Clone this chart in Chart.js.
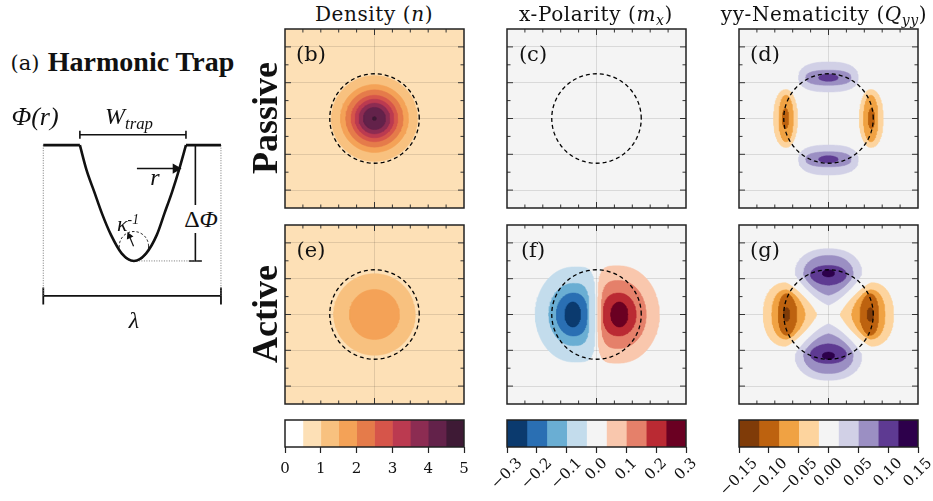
<!DOCTYPE html>
<html>
<head>
<meta charset="utf-8">
<script src="https://cdn.jsdelivr.net/npm/chart.js@4.4.1/dist/chart.umd.min.js"></script>
<style>
  body { margin: 0; background: #fff; width: 933px; height: 501px; position: relative; overflow: hidden; }
  canvas { position: absolute; }
  .t { position: absolute; transform: translate(-50%, -50%); white-space: nowrap; line-height: 1; color: #111; }
  .cm { font-family: "DejaVu Serif", serif; }
  .tm { font-family: "Liberation Serif", serif; }
  .title { font-size: 20px; letter-spacing: 0.6px; }
  .row { font-family: "Liberation Serif", serif; font-weight: bold; font-size: 36px; transform: translate(-50%, -50%) rotate(-90deg); }
  .lt { font-size: 21px; }
  .sub { font-size: 70%; position: relative; top: 0.3em; }
  .sup { font-size: 62%; position: relative; top: -0.55em; }
</style>
</head>
<body>
<canvas id="trap" width="245" height="260" style="left:0;top:80px"></canvas>

<canvas id="pb" width="183" height="183" style="left:283px;top:27px"></canvas>
<canvas id="pc" width="183" height="183" style="left:505px;top:27px"></canvas>
<canvas id="pd" width="183" height="183" style="left:737px;top:27px"></canvas>
<canvas id="pe" width="183" height="183" style="left:283px;top:223px"></canvas>
<canvas id="pf" width="183" height="183" style="left:505px;top:223px"></canvas>
<canvas id="pg" width="183" height="183" style="left:737px;top:223px"></canvas>

<canvas id="cb1" width="239" height="109" style="left:255px;top:418px"></canvas>
<canvas id="cb2" width="239" height="109" style="left:477px;top:418px"></canvas>
<canvas id="cb3" width="239" height="109" style="left:709px;top:418px"></canvas>

<!-- schematic labels -->
<div class="t cm" style="left:25px;top:63px;font-size:21px">(a)</div>
<div class="t tm" style="left:141px;top:62px;font-size:28px;font-weight:bold">Harmonic Trap</div>
<div class="t tm" style="left:35px;top:117px;font-size:26px;font-style:italic">Φ(r)</div>
<div class="t tm" style="left:129px;top:116px;font-size:24px;font-style:italic">W<span class="sub">trap</span></div>
<div class="t tm" style="left:155px;top:177px;font-size:24px;font-style:italic">r</div>
<div class="t tm" style="left:128px;top:224px;font-size:22px;font-style:italic">κ<span class="sup">-1</span></div>
<div class="t tm" style="left:201px;top:219px;font-size:24px;background:#fff;padding:2px 0">Δ<i>Φ</i></div>
<div class="t tm" style="left:134px;top:320px;font-size:24px;font-style:italic">λ</div>

<!-- column titles and row labels -->
<div class="t cm title" style="left:374px;top:14px">Density (<i>n</i>)</div>
<div class="t cm title" style="left:596px;top:14px">x-Polarity (<i>m<span class="sub">x</span></i>)</div>
<div class="t cm title" style="left:824px;top:14px">yy-Nematicity (<i>Q<span class="sub">yy</span></i>)</div>
<div class="t row" style="left:265px;top:118px">Passive</div>
<div class="t row" style="left:265px;top:314px">Active</div>

<!-- panel letters -->
<div class="t cm lt" style="left:311px;top:54px">(b)</div>
<div class="t cm lt" style="left:533px;top:54px">(c)</div>
<div class="t cm lt" style="left:765px;top:54px">(d)</div>
<div class="t cm lt" style="left:311px;top:250px">(e)</div>
<div class="t cm lt" style="left:533px;top:250px">(f)</div>
<div class="t cm lt" style="left:765px;top:250px">(g)</div>

<script>
// ---- data ----

// colour bars: tick labels and bin colours
const densityTicks = [0, 1, 2, 3, 4, 5];
const densityColors = ['#ffffff', '#fde0b6', '#f8c17f', '#f4a257', '#e57b4a', '#d6554a', '#bb3a50', '#8c2c52', '#63224a', '#3e1a35'];
const polarityTicks = [-0.3, -0.2, -0.1, 0, 0.1, 0.2, 0.3];
const polarityColors = ['#0b3a6e', '#2a6fb3', '#6aaed3', '#c3dcec', '#f4f4f4', '#f9c7ad', '#e5806a', '#ba2a33', '#6a0022'];
const nematicTicks = [-0.15, -0.1, -0.05, 0, 0.05, 0.1, 0.15];
const nematicColors = ['#7f3b08', '#bd620f', '#f0a243', '#fdd49e', '#f4f4f4', '#d1d0e6', '#9b8fc3', '#5e3a92', '#2d004b'];

// trap edge (dashed circle), in box units
const trapRadius = 1.25;

// density: radius of each filled level, from n = 1-1.5 upwards
const passiveDensityRadii = [1.20, 0.95, 0.80, 0.65, 0.54, 0.43, 0.31, 0.05];
const activeDensityRadii = [1.14, 0.70];

// lobes: [colour bin, centre distance, outer reach, inner reach, half width, inner shape, outer shape]
const mxActiveNeg = [
  [3, 0.64, 1.07, 0.60, 1.33, 0.45, 1],
  [2, 0.66, 0.67, 0.45, 0.87, 0.6, 1],
  [1, 0.66, 0.46, 0.40, 0.60, 0.8, 1],
  [0, 0.66, 0.22, 0.22, 0.35, 1, 1]
];
const mxActivePos = [
  [5, 0.64, 1.12, 0.60, 1.36, 0.45, 1],
  [6, 0.64, 0.75, 0.50, 0.95, 0.6, 1],
  [7, 0.64, 0.47, 0.45, 0.60, 0.8, 1],
  [8, 0.64, 0.24, 0.24, 0.35, 1, 1]
];
const qyyPassivePurple = [
  [5, 1.14, 0.44, 0.40, 0.83, 0.8, 0.8],
  [6, 1.14, 0.21, 0.21, 0.63, 0.8, 0.8],
  [7, 1.14, 0.10, 0.10, 0.27, 1, 1]
];
const qyyPassiveOrange = [
  [3, 1.18, 0.35, 0.32, 0.81, 1, 0.9],
  [2, 1.18, 0.20, 0.20, 0.65, 1, 0.9],
  [1, 1.20, 0.09, 0.09, 0.28, 1, 1]
];
const qyyActivePurple = [
  [5, 1.14, 0.70, 0.88, 0.93, 1.6, 0.9],
  [6, 1.12, 0.53, 0.58, 0.69, 1.4, 0.9],
  [7, 1.10, 0.27, 0.28, 0.50, 1.1, 0.9],
  [8, 1.15, 0.10, 0.10, 0.17, 1, 1]
];
const qyyActiveOrange = [
  [3, 1.20, 0.62, 0.87, 0.89, 1.6, 0.9],
  [2, 1.18, 0.40, 0.53, 0.69, 1.3, 0.9],
  [1, 1.16, 0.24, 0.28, 0.58, 1.1, 0.9],
  [0, 1.17, 0.09, 0.09, 0.19, 1, 1]
];

// panel axes
const gridX = [0];
const gridY = [-2, -1, 0, 1, 2];
const minorTicks = [-2, -1.5, -1, -0.5, 0, 0.5, 1, 1.5, 2];

// schematic (a): traced trap wall, x in units of lambda, y in units of delta phi
const trapX = [0.206, 0.244, 0.287, 0.330, 0.381, 0.441, 0.510, 0.579, 0.639, 0.682, 0.725, 0.768, 0.803];
const trapY = [1, 0.782, 0.597, 0.411, 0.225, 0.066, 0, 0.066, 0.225, 0.411, 0.597, 0.809, 1];

// ---- helpers ----
function ring(r, cx = 0, cy = 0, ry = r) {
  const pts = [];
  for (let i = 0; i <= 96; i++) {
    const t = i / 96 * 2 * Math.PI;
    pts.push({x: cx + r * Math.cos(t), y: cy + ry * Math.sin(t)});
  }
  return pts;
}

function lobe(spec, angle) {
  const [, d, back, front, half, eIn, eOut] = spec;
  const ca = Math.cos(angle), sa = Math.sin(angle);
  const pts = [];
  for (let i = 0; i <= 120; i++) {
    const t = i / 120 * 2 * Math.PI;
    const c = Math.cos(t), s = Math.sin(t);
    const e = c >= 0 ? eOut : eIn;
    const u = d + (c >= 0 ? back : front) * Math.sign(c) * Math.pow(Math.abs(c), e);
    const v = half * Math.sign(s) * Math.pow(Math.abs(s), e);
    pts.push({x: u * ca - v * sa, y: u * sa + v * ca});
  }
  return pts;
}

function lobes(list, colors, angles) {
  const out = [];
  angles.forEach(a => list.forEach(spec => out.push({pts: lobe(spec, a), color: colors[spec[0]]})));
  return out;
}

const panelFrame = {
  id: 'panelFrame',
  beforeDraw(chart, args, opts) {
    const {ctx, chartArea: a} = chart;
    ctx.save();
    ctx.fillStyle = opts.background;
    ctx.fillRect(a.left, a.top, a.width, a.height);
    ctx.restore();
  },
  afterDraw(chart) {
    const {ctx, chartArea: a, scales: {x, y}} = chart;
    ctx.save();
    ctx.strokeStyle = '#333';
    ctx.lineWidth = 1;
    ctx.beginPath();
    minorTicks.forEach(v => {
      const px = x.getPixelForValue(v), py = y.getPixelForValue(v);
      const lx = gridX.includes(v) ? 6 : 3.5;
      const ly = gridY.includes(v) ? 6 : 3.5;
      ctx.moveTo(px, a.top); ctx.lineTo(px, a.top + lx);
      ctx.moveTo(px, a.bottom); ctx.lineTo(px, a.bottom - lx);
      ctx.moveTo(a.left, py); ctx.lineTo(a.left + ly, py);
      ctx.moveTo(a.right, py); ctx.lineTo(a.right - ly, py);
    });
    ctx.stroke();
    ctx.strokeStyle = '#222';
    ctx.lineWidth = 1.5;
    ctx.strokeRect(a.left, a.top, a.width, a.height);
    ctx.restore();
  }
};

// frame round the colour bar, plus 45 degree tick labels centred under each tick
const barFrame = {
  id: 'barFrame',
  afterDraw(chart, args, opts) {
    const {ctx, chartArea: a} = chart;
    ctx.save();
    ctx.strokeStyle = '#222';
    ctx.lineWidth = 1.5;
    ctx.strokeRect(a.left, a.top, a.width, a.height);
    if (opts.rotated) {
      const x = chart.scales.x;
      ctx.font = '15px "DejaVu Serif"';
      ctx.fillStyle = '#111';
      ctx.textAlign = 'center';
      ctx.textBaseline = 'middle';
      x.ticks.forEach(t => {
        const label = fmt(t.value, opts.decimals);
        const len = ctx.measureText(label).width;
        const half = (len + 11) * 0.3536;
        ctx.save();
        ctx.translate(x.getPixelForValue(t.value), a.bottom + 10 + half);
        ctx.rotate(-Math.PI / 4);
        ctx.fillText(label, 0, 0);
        ctx.restore();
      });
    }
    ctx.restore();
  }
};

function panelAxis(grid) {
  return {
    type: 'linear', min: -2.5, max: 2.5, z: 1,
    afterBuildTicks: s => { s.ticks = grid.map(v => ({value: v})); },
    afterFit: s => { if (s.isHorizontal()) s.height = 0; else s.width = 0; },
    ticks: {display: false},
    grid: {color: 'rgba(0,0,0,0.11)', lineWidth: 1, drawTicks: false},
    border: {display: false}
  };
}

function makePanel(id, background, layers) {
  const datasets = layers.map(l => ({
    data: l.pts, backgroundColor: l.color, borderColor: l.color, borderWidth: 0.5,
    pointRadius: 0, fill: 'shape', tension: 0
  }));
  datasets.push({data: ring(trapRadius), borderColor: '#000', borderWidth: 1.3, borderDash: [4, 3], pointRadius: 0, fill: false});
  datasets.forEach((d, i) => { d.order = datasets.length - i; });
  new Chart(document.getElementById(id), {
    type: 'line',
    data: {datasets},
    options: {
      responsive: false, animation: false, events: [],
      layout: {padding: 2},
      plugins: {legend: {display: false}, tooltip: {enabled: false}, panelFrame: {background}},
      scales: {x: panelAxis(gridX), y: panelAxis(gridY)}
    },
    plugins: [panelFrame]
  });
}

function fmt(v, decimals) {
  const s = Math.abs(v).toFixed(decimals);
  return v < -1e-9 ? '\u2212' + s : s;
}

function makeColorbar(id, colors, ticks, decimals, rotated) {
  const lo = ticks[0], hi = ticks[ticks.length - 1];
  const w = (hi - lo) / colors.length;
  const datasets = colors.map((c, i) => ({
    data: [[lo + i * w, lo + (i + 1) * w]], backgroundColor: c, borderWidth: 0,
    barPercentage: 1, categoryPercentage: 1, grouped: false
  }));
  new Chart(document.getElementById(id), {
    type: 'bar',
    data: {labels: [''], datasets},
    options: {
      indexAxis: 'y', responsive: false, animation: false, events: [],
      layout: {padding: {left: 30, right: 30, top: 2, bottom: 0}},
      plugins: {legend: {display: false}, tooltip: {enabled: false}, barFrame: {rotated, decimals}},
      scales: {
        y: {display: false},
        x: {
          type: 'linear', min: lo, max: hi,
          afterBuildTicks: s => { s.ticks = ticks.map(v => ({value: v})); },
          afterFit: s => { s.height = 80; s.paddingLeft = 0; s.paddingRight = 0; },
          grid: {drawOnChartArea: false, tickLength: 6, tickColor: '#222', tickWidth: 1.2},
          border: {display: false},
          ticks: {
            display: !rotated, autoSkip: false, maxRotation: 0, padding: 7,
            color: '#111', font: {family: 'DejaVu Serif', size: 15},
            callback: v => fmt(v, decimals)
          }
        }
      }
    },
    plugins: [barFrame]
  });
}

// ---- panels ----
makePanel('pb', densityColors[1], passiveDensityRadii.map((r, i) => ({pts: ring(r), color: densityColors[i + 2]})));
makePanel('pc', polarityColors[4], []);
makePanel('pd', nematicColors[4], lobes(qyyPassivePurple, nematicColors, [Math.PI / 2, -Math.PI / 2])
  .concat(lobes(qyyPassiveOrange, nematicColors, [0, Math.PI])));
makePanel('pe', densityColors[1], activeDensityRadii.map((r, i) => ({pts: ring(r), color: densityColors[i + 2]})));
makePanel('pf', polarityColors[4], lobes(mxActiveNeg, polarityColors, [Math.PI])
  .concat(lobes(mxActivePos, polarityColors, [0])));
makePanel('pg', nematicColors[4], lobes(qyyActivePurple, nematicColors, [Math.PI / 2, -Math.PI / 2])
  .concat(lobes(qyyActiveOrange, nematicColors, [0, Math.PI])));

makeColorbar('cb1', densityColors, densityTicks, 0, false);
makeColorbar('cb2', polarityColors, polarityTicks, 1, true);
makeColorbar('cb3', nematicColors, nematicTicks, 2, true);

// ---- schematic (a) ----
const black = '#111';
const wall = trapX.map((x, i) => ({x, y: trapY[i]}));
const rim = trapY[0];
new Chart(document.getElementById('trap'), {
  type: 'line',
  data: {
    datasets: [
      {data: wall, borderColor: black, borderWidth: 2.6, pointRadius: 0, cubicInterpolationMode: 'monotone'},
      {data: [{x: 0, y: rim}, {x: trapX[0], y: rim}], borderColor: black, borderWidth: 2.6, pointRadius: 0},
      {data: [{x: trapX[trapX.length - 1], y: rim}, {x: 1, y: rim}], borderColor: black, borderWidth: 2.6, pointRadius: 0},
      // dotted guides
      {data: [{x: 0, y: rim}, {x: 0, y: -0.302}], borderColor: '#777', borderWidth: 1, borderDash: [1, 1.5], pointRadius: 0},
      {data: [{x: 1, y: rim}, {x: 1, y: -0.302}], borderColor: '#777', borderWidth: 1, borderDash: [1, 1.5], pointRadius: 0},
      {data: [{x: 0.510, y: 0}, {x: 0.871, y: 0}], borderColor: '#777', borderWidth: 1, borderDash: [1, 1.5], pointRadius: 0},
      // W_trap bracket
      {data: [{x: trapX[0], y: 1.09}, {x: trapX[trapX.length - 1], y: 1.09}], borderColor: black, borderWidth: 1.6,
        pointStyle: 'line', pointRotation: 90, pointRadius: 4, pointBorderWidth: 1.6, pointBorderColor: black},
      // delta phi bracket
      {data: [{x: 0.856, y: 0}, {x: 0.856, y: rim}], borderColor: black, borderWidth: 1.6,
        pointStyle: 'line', pointRotation: 0, pointRadius: 6.5, pointBorderWidth: 1.6, pointBorderColor: black},
      // lambda bracket
      {data: [{x: 0, y: -0.302}, {x: 1, y: -0.302}], borderColor: black, borderWidth: 1.8,
        pointStyle: 'line', pointRotation: 90, pointRadius: 8.5, pointBorderWidth: 1.8, pointBorderColor: black},
      // r arrow
      {data: [{x: 0.527, y: 0.798}, {x: 0.745, y: 0.798}], borderColor: black, borderWidth: 1.4,
        pointStyle: 'triangle', pointRotation: 90, pointRadius: [0, 4.5], pointBackgroundColor: black, pointBorderColor: black},
      // curvature circle and its arrow
      {data: ring(0.0825, 0.510, 0.127, 0.127), borderColor: black, borderWidth: 1, borderDash: [2.5, 2], pointRadius: 0},
      {data: [{x: 0.508, y: 0.127}, {x: 0.484, y: 0.215}], borderColor: black, borderWidth: 1.2,
        pointStyle: 'triangle', pointRotation: -25, pointRadius: [0, 3], pointBackgroundColor: black, pointBorderColor: black}
    ]
  },
  options: {
    responsive: false, animation: false, events: [],
    layout: {padding: 0},
    plugins: {legend: {display: false}, tooltip: {enabled: false}},
    scales: {
      x: {type: 'linear', min: -0.1856, max: 1.0773, display: false},
      y: {type: 'linear', min: -0.594, max: 1.474, display: false}
    }
  }
});
</script>
</body>
</html>
